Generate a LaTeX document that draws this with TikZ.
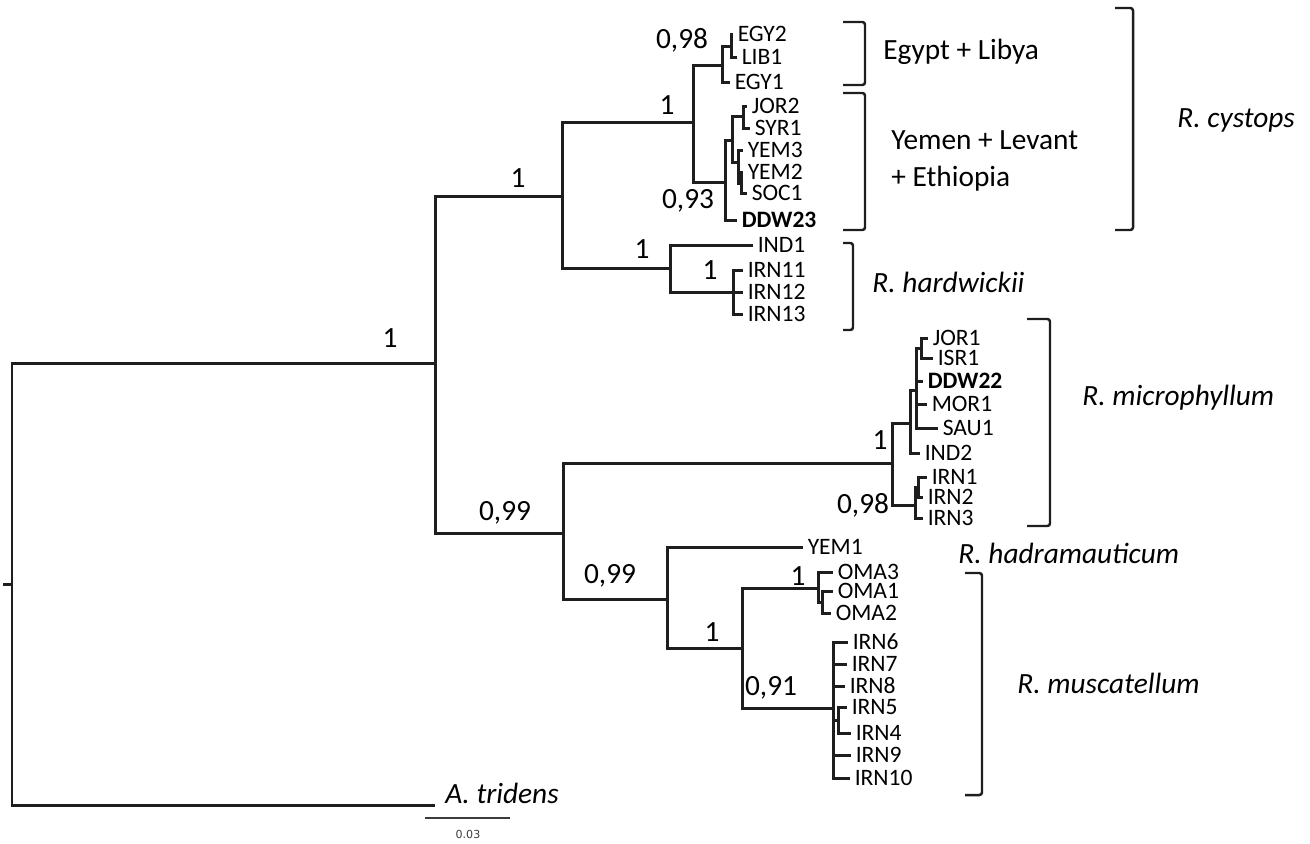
\documentclass[tikz,border=0pt]{standalone}
\usepackage{fontspec}
\setmainfont{Carlito}
\newfontfamily\barfont{DejaVu Sans}
\definecolor{branchline}{HTML}{1E1E1E}
\definecolor{barline}{HTML}{3C3C3C}

\begin{document}
\begin{tikzpicture}[
  x=0.02cm, y=-0.02cm,
  branch/.style={draw=branchline, line width=1.7pt},
  brk/.style={draw=branchline, line width=1.4pt, rounded corners=1.5pt},
  taxon/.style={anchor=west, inner xsep=2.5pt, inner ysep=0pt,
                font=\fontsize{13.4}{15}\selectfont},
  supp/.style={inner sep=0pt, font=\fontsize{16.7}{18}\selectfont},
  region/.style={anchor=west, inner sep=0pt, align=left,
                 font=\fontsize{16.7}{21.5}\selectfont},
  species/.style={region, font=\fontsize{16.7}{18}\selectfont\itshape},
]
\useasboundingbox (0,0) rectangle (1310,843);

% internal nodes of the tree
\coordinate (stem)   at (3,584);
\coordinate (root)   at (12,584);
\coordinate (atrtip) at (435,805);
\coordinate (ingrp)  at (435,363);
\coordinate (cyhw)   at (562,196);
\coordinate (cyst)   at (693,122);
\coordinate (eglb)   at (722,65);
\coordinate (eglb2)  at (731,46);
\coordinate (yemn)   at (725,182);
\coordinate (levt)   at (732,140);
\coordinate (jrsy)   at (743,116);
\coordinate (yemg)   at (738,162);
\coordinate (ymsc)   at (741,183);
\coordinate (hardw)  at (670,268);
\coordinate (irnh)   at (733,292);
\coordinate (mhm)    at (563,533);
\coordinate (micro)  at (892,463);
\coordinate (mic1)   at (910,423);
\coordinate (mic2)   at (916,390);
\coordinate (jris)   at (921,348);
\coordinate (irnm)   at (915,505);
\coordinate (irnm2)  at (918,487);
\coordinate (hdms)   at (667,599);
\coordinate (musc)   at (742,648);
\coordinate (oman)   at (818,588);
\coordinate (oma12)  at (822,602);
\coordinate (irnc)   at (833,708);
\coordinate (irnc2)  at (838,720);

% tips
\node[taxon] (egy2)  at (733,34)  {EGY2};
\node[taxon] (lib1)  at (737,57)  {LIB1};
\node[taxon] (egy1)  at (730,82)  {EGY1};
\node[taxon] (jor2)  at (747,106) {JOR2};
\node[taxon] (syr1)  at (750,128) {SYR1};
\node[taxon] (yem3)  at (743,150) {YEM3};
\node[taxon] (yem2)  at (743,172) {YEM2};
\node[taxon] (soc1)  at (747,193) {SOC1};
\node[taxon] (ddw23) at (737,220) {\textbf{DDW23}};
\node[taxon] (ind1)  at (753,245) {IND1};
\node[taxon] (irn11) at (743,270) {IRN11};
\node[taxon] (irn12) at (743,292) {IRN12};
\node[taxon] (irn13) at (743,314) {IRN13};
\node[taxon] (jor1)  at (928,338) {JOR1};
\node[taxon] (isr1)  at (933,358) {ISR1};
\node[taxon] (ddw22) at (923,381) {\textbf{DDW22}};
\node[taxon] (mor1)  at (927,404) {MOR1};
\node[taxon] (sau1)  at (938,428) {SAU1};
\node[taxon] (ind2)  at (920,453) {IND2};
\node[taxon] (irn1)  at (927,477) {IRN1};
\node[taxon] (irn2)  at (923,497) {IRN2};
\node[taxon] (irn3)  at (923,518) {IRN3};
\node[taxon] (yem1)  at (803,547) {YEM1};
\node[taxon] (oma3)  at (833,572) {OMA3};
\node[taxon] (oma1)  at (833,591) {OMA1};
\node[taxon] (oma2)  at (831,613) {OMA2};
\node[taxon] (irn6)  at (848,642) {IRN6};
\node[taxon] (irn7)  at (847,664) {IRN7};
\node[taxon] (irn8)  at (845,686) {IRN8};
\node[taxon] (irn5)  at (847,707) {IRN5};
\node[taxon] (irn4)  at (851,733) {IRN4};
\node[taxon] (irn9)  at (851,755) {IRN9};
\node[taxon] (irn10) at (850,778) {IRN10};
\node[species] (atri) at (445,793) {A. tridens};

% branches
\draw[branch] (stem) -- (root);
\foreach \p/\c in {root/ingrp, root/atrtip, ingrp/cyhw, ingrp/mhm,
    cyhw/cyst, cyhw/hardw, cyst/eglb, cyst/yemn, eglb/eglb2, yemn/levt,
    levt/jrsy, levt/yemg, yemg/ymsc, hardw/irnh, mhm/micro, mhm/hdms,
    micro/mic1, micro/irnm, mic1/mic2, mic2/jris, irnm/irnm2,
    hdms/musc, musc/oman, musc/irnc, oman/oma12, irnc/irnc2}
  \draw[branch] (\p) |- (\c);
\foreach \p/\c in {eglb/egy1, eglb2/egy2, eglb2/lib1, yemn/ddw23,
    jrsy/jor2, jrsy/syr1, yemg/yem3, ymsc/yem2, ymsc/soc1,
    hardw/ind1, irnh/irn11, irnh/irn12, irnh/irn13,
    mic1/ind2, mic2/ddw22, mic2/mor1, mic2/sau1, jris/jor1, jris/isr1,
    irnm/irn3, irnm2/irn1, irnm2/irn2, hdms/yem1,
    oman/oma3, oma12/oma1, oma12/oma2,
    irnc/irn6, irnc/irn7, irnc/irn8, irnc/irn9, irnc/irn10,
    irnc2/irn5, irnc2/irn4}
  \draw[branch] (\p) |- (\c.west);

% posterior probabilities
\node[supp] (pp1)  at (390,338) {1};
\node[supp] (pp2)  at (518,178) {1};
\node[supp] (pp3)  at (667,105) {1};
\node[supp] (pp4)  at (682,40)  {0,98};
\node[supp] (pp5)  at (688,201) {0,93};
\node[supp] (pp6)  at (642,249) {1};
\node[supp] (pp7)  at (710,270) {1};
\node[supp] (pp8)  at (505,513) {0,99};
\node[supp] (pp9)  at (880,440) {1};
\node[supp] (pp10) at (863,505) {0,98};
\node[supp] (pp11) at (610,576) {0,99};
\node[supp] (pp12) at (712,632) {1};
\node[supp] (pp13) at (798,576) {1};
\node[supp] (pp14) at (771,688) {0,91};

% brackets and groups
\draw[brk] (843,22)  -- (865,22)  -- (865,85)  -- (843,85);
\draw[brk] (843,93)  -- (865,93)  -- (865,230) -- (843,230);
\draw[brk] (1115,8)  -- (1133,8)  -- (1133,230) -- (1115,230);
\draw[brk] (843,243) -- (853,243) -- (853,330) -- (843,330);
\draw[brk] (1027,319) -- (1050,319) -- (1050,526) -- (1027,526);
\draw[brk] (965,573) -- (982,573) -- (982,795) -- (965,795);
\node[region] (eglab) at (883,52) {Egypt + Libya};
\node[region] (ymlab) at (891,161) {Yemen + Levant\\+ Ethiopia};
\node[species] (cyslab) at (1177,120) {R. cystops};
\node[species] (hrdlab) at (872,282) {R. hardwickii};
\node[species] (miclab) at (1082,398) {R. microphyllum};
\node[species] (hadlab) at (958,553) {R. hadramauticum};
\node[species] (msclab) at (1017,683) {R. muscatellum};

% scale
\coordinate (sbl) at (425,818);
\coordinate (sbr) at (510,818);
\draw[draw=barline, line width=0.8pt] (sbl) -- (sbr);
\node[inner sep=0pt, text=barline, font=\barfont\fontsize{6.3}{7}\selectfont] (sblab) at (468,834) {0.03};
\end{tikzpicture}
\end{document}
